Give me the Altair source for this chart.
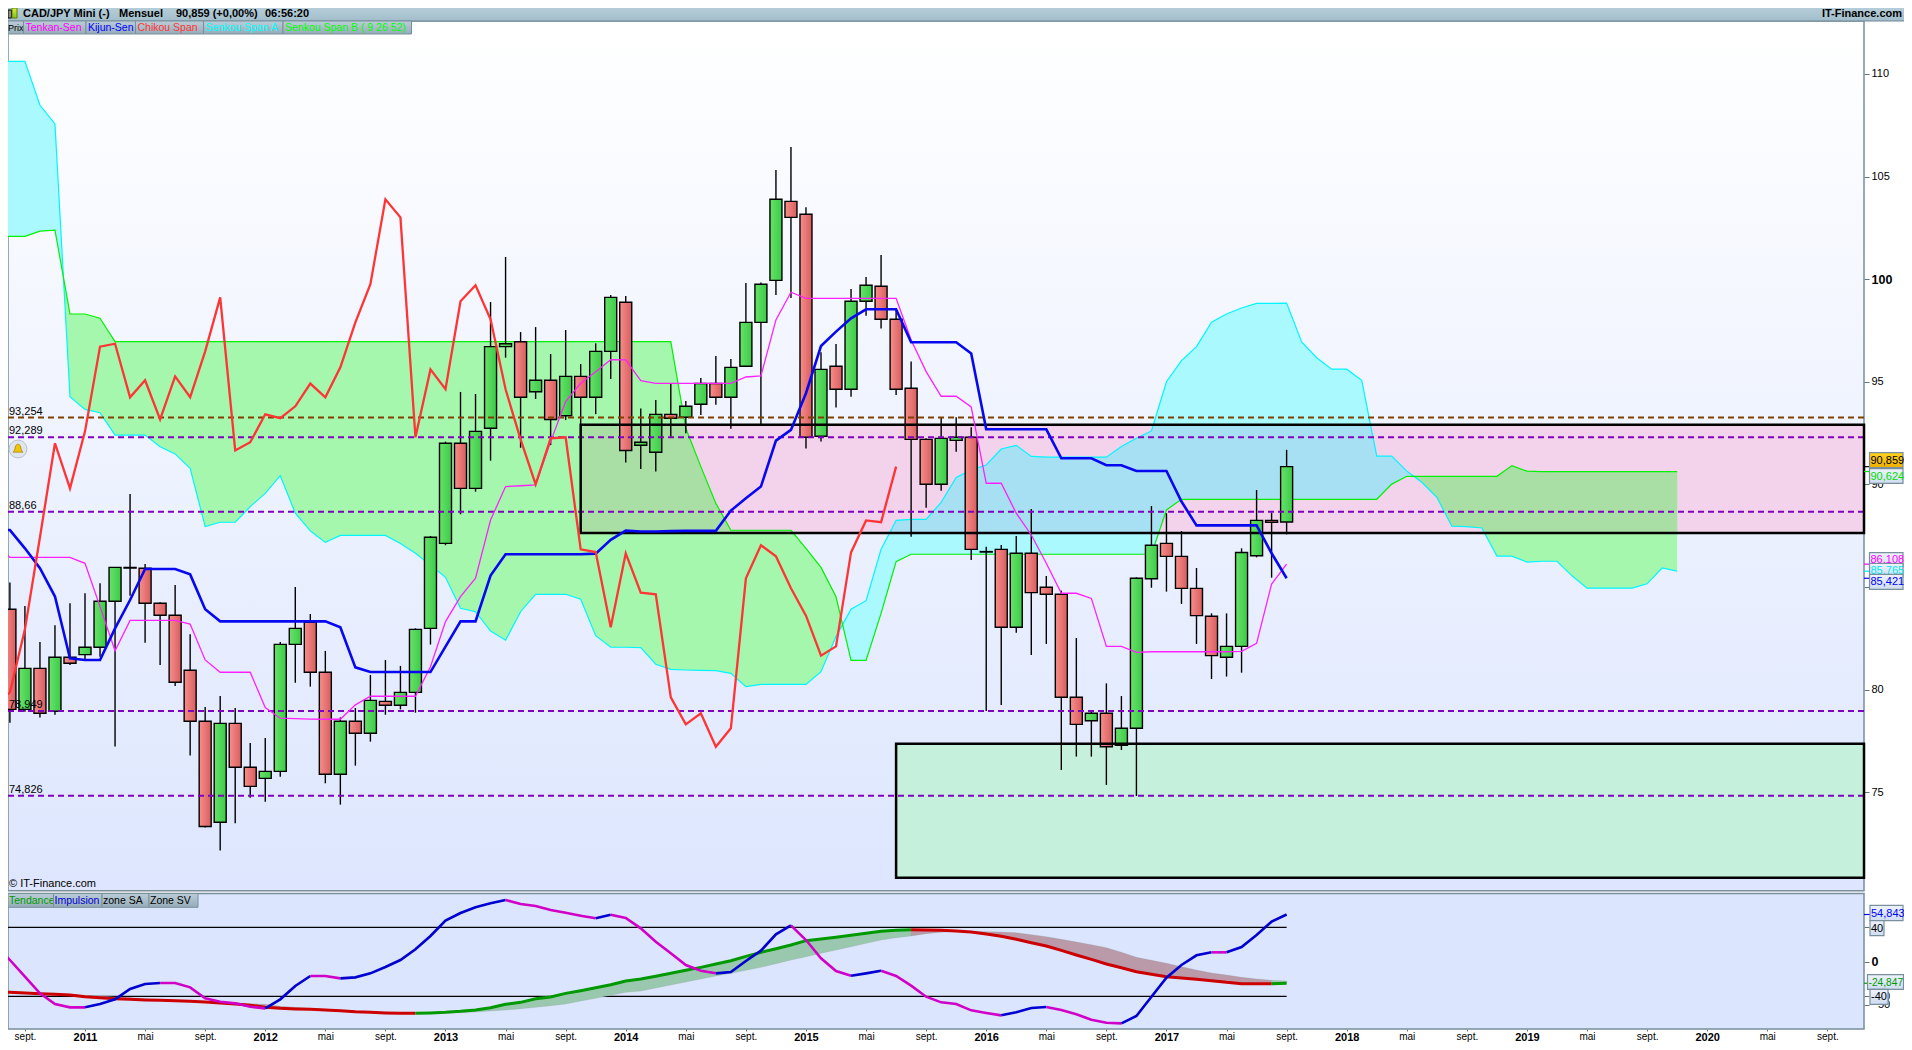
import altair as alt
import pandas as pd

FONT = "Liberation Sans"
# ---- candles, one per month, August 2010 to September 2017
open_ = [83.91,79.03,81.03,78.94,81.57,81.70,82.06,84.30,85.95,85.91,84.20,83.62,80.94,78.45,73.53,78.35,76.21,75.67,76.01,82.20,83.27,80.84,75.87,78.45,77.87,79.42,79.23,79.86,82.98,87.12,92.00,89.80,92.73,96.71,96.95,94.51,95.07,93.34,95.26,94.24,96.48,98.87,91.90,91.56,93.41,93.27,93.90,94.91,94.24,95.75,97.89,99.94,103.79,103.16,92.34,95.75,94.63,98.92,99.65,98.04,94.68,92.19,90.00,92.14,92.29,86.72,86.83,83.03,86.64,84.98,84.64,79.62,78.48,78.84,77.28,78.11,85.40,87.12,86.49,84.93,83.57,81.57,82.10,86.52,88.24,88.16]
high = [85.22,84.07,82.32,83.13,84.20,84.69,85.18,85.95,89.53,86.12,84.25,85.09,82.69,79.15,79.68,79.10,77.39,77.64,82.32,85.00,83.68,81.88,78.64,79.10,80.71,81.44,81.15,82.98,87.48,92.08,94.50,94.40,98.88,101.08,97.42,97.66,96.35,97.52,95.86,96.87,99.22,99.18,93.70,94.11,94.89,94.06,95.18,96.25,96.11,99.81,99.84,105.32,106.44,103.50,96.43,96.84,99.52,100.10,101.18,98.50,95.99,92.24,93.27,93.27,92.78,86.96,87.04,87.48,88.80,85.53,84.82,82.51,79.00,80.30,79.68,85.47,88.94,88.59,87.72,85.92,83.71,83.71,86.88,89.72,88.62,91.68]
low = [78.38,78.92,78.63,78.77,81.20,81.44,81.60,77.22,84.57,82.28,81.20,80.17,76.78,73.27,72.15,73.48,74.73,74.53,75.75,80.33,80.14,75.43,74.39,76.29,77.46,78.77,79.03,78.87,82.19,87.03,88.54,89.64,91.15,96.17,91.78,94.16,91.91,93.13,92.89,93.42,95.13,91.06,90.75,90.62,92.32,92.49,93.38,93.88,92.71,95.75,92.89,99.23,99.08,91.74,92.08,93.74,94.27,98.22,97.59,94.35,87.45,88.86,89.69,91.59,86.31,78.95,79.25,82.77,81.68,82.22,76.08,76.73,76.73,75.35,77.05,74.81,84.96,84.77,84.17,82.22,80.51,80.63,80.82,86.44,85.45,87.56]
close = [79.03,81.03,78.84,81.57,81.28,82.06,84.30,85.95,85.92,84.20,83.62,80.35,78.45,73.32,78.35,76.21,75.28,76.01,82.20,82.98,80.84,75.87,78.45,77.87,79.47,79.23,79.86,82.93,87.42,92.00,89.80,92.58,96.71,96.85,94.24,95.07,93.16,95.26,94.24,96.48,99.11,91.65,92.05,93.41,93.22,93.80,94.91,94.24,95.70,97.89,99.75,103.89,103.01,92.29,95.60,94.63,98.92,99.70,98.04,94.63,92.19,90.00,92.24,92.29,86.83,86.70,83.03,86.64,84.72,84.64,79.62,78.30,78.84,77.21,78.11,85.42,87.03,86.49,84.93,83.60,81.65,82.10,86.68,88.24,88.15,90.86]
# ---- Ichimoku lines, first value is the month before the first candle
tenkan = [87.14,86.44,86.44,86.44,86.44,86.44,86.15,84.04,81.89,83.37,83.37,83.37,83.37,83.19,81.44,80.84,80.84,80.84,79.12,78.60,78.58,78.56,78.55,78.55,79.25,79.67,79.67,79.67,79.67,81.11,83.31,84.53,85.42,88.26,89.89,89.93,89.97,92.08,94.03,94.92,95.49,96.07,96.06,95.05,94.92,94.92,94.92,94.92,94.92,94.92,95.23,95.28,98.01,99.36,99.06,99.06,99.06,99.06,99.06,99.06,99.06,97.03,95.49,94.29,94.29,93.77,90.05,90.05,88.59,87.53,86.15,84.69,84.69,84.44,82.10,82.10,81.81,81.84,81.84,81.84,81.84,81.84,81.84,81.86,82.25,85.14,86.108]
kijun = [87.77,87.77,86.88,85.91,84.53,81.52,81.44,81.44,82.98,84.36,85.87,85.87,85.87,85.61,83.91,83.32,83.32,83.32,83.32,83.32,83.32,83.32,83.32,83.03,81.08,80.85,80.85,80.85,80.85,80.85,82.09,83.32,83.32,85.55,86.59,86.59,86.59,86.59,86.59,86.59,86.62,87.29,87.74,87.70,87.70,87.72,87.73,87.73,87.73,88.72,89.32,89.89,92.13,92.65,94.44,96.74,97.44,98.09,98.53,98.53,98.53,96.92,96.92,96.92,96.92,96.38,92.68,92.68,92.68,92.68,92.68,91.27,91.27,91.27,90.93,90.93,90.65,90.65,90.65,89.16,88.00,88.00,88.00,88.00,88.00,86.64,85.421]
chikou = [79.23,79.86,82.93,87.42,92.00,89.80,92.58,96.71,96.85,94.24,95.07,93.16,95.26,94.24,96.48,99.11,91.65,92.05,93.41,93.22,93.80,94.91,94.24,95.70,97.89,99.75,103.89,103.01,92.29,95.60,94.63,98.92,99.70,98.04,94.63,92.19,90.00,92.24,92.29,86.83,86.70,83.03,86.64,84.72,84.64,79.62,78.30,78.84,77.21,78.11,85.42,87.03,86.49,84.93,83.60,81.65,82.10,86.68,88.24,88.15,90.86]
senkou_a = [110.61,110.61,110.61,108.47,107.56,94.27,93.65,93.49,92.40,92.40,92.40,91.83,91.48,90.78,87.94,88.15,88.15,88.91,89.56,90.42,88.59,87.73,87.17,87.51,87.51,87.51,87.51,87.12,86.64,86.07,85.47,83.96,83.79,82.85,82.40,83.79,84.64,84.64,84.64,84.40,82.62,82.06,82.06,82.04,81.23,80.98,80.95,80.93,80.92,80.79,80.14,80.25,80.25,80.25,80.25,80.87,82.58,83.91,84.33,86.83,88.24,88.29,88.29,89.12,90.33,90.70,90.94,91.72,91.90,91.36,91.32,91.32,91.32,91.32,91.32,91.84,92.24,92.60,95.00,96.03,96.71,97.90,98.30,98.59,98.82,98.82,98.83,96.94,96.17,95.61,95.61,95.07,91.37,91.37,90.64,90.10,89.37,87.96,87.94,87.87,86.50,86.50,86.21,86.25,86.25,85.54,84.94,84.94,84.94,84.94,85.15,85.92,85.77]
senkou_b = [102.08,102.08,102.08,102.34,102.39,98.30,98.30,98.09,96.95,96.95,96.95,96.95,96.95,96.95,96.95,96.95,96.95,96.95,96.95,96.95,96.95,96.95,96.95,96.95,96.95,96.95,96.95,96.95,96.95,96.95,96.95,96.95,96.95,96.95,96.95,96.95,96.95,96.95,96.95,96.95,96.95,96.95,96.95,96.95,96.95,96.95,92.73,90.86,89.07,87.76,87.76,87.76,87.76,87.76,86.88,85.95,84.52,81.42,81.42,83.71,86.23,86.59,86.59,86.59,86.59,86.59,86.59,86.59,86.59,86.59,86.59,86.59,86.59,86.59,86.59,86.59,86.59,86.59,88.75,89.27,89.27,89.27,89.27,89.27,89.27,89.27,89.27,89.27,89.27,89.27,89.27,89.27,89.27,90.01,90.39,90.39,90.39,90.39,90.39,90.39,90.39,90.91,90.64,90.62,90.62,90.62,90.62,90.62,90.62,90.62,90.62,90.62,90.62]
# ---- lower indicator
impulsion = [21.80,2.09,-17.24,-36.56,-48.93,-52.79,-52.79,-48.93,-43.52,-31.54,-25.74,-24.58,-24.58,-29.60,-42.36,-46.22,-48.16,-52.02,-53.95,-43.52,-28.06,-16.46,-16.46,-19.17,-18.01,-13.37,-6.03,2.09,14.45,29.91,47.69,56.58,63.15,67.79,71.65,67.01,64.70,60.06,56.97,53.49,50.40,54.65,50.78,38.80,23.34,9.82,-3.71,-10.28,-13.37,-11.83,0.93,12.91,31.84,42.28,25.27,4.02,-10.67,-16.08,-13.37,-10.28,-16.46,-27.67,-40.43,-47.00,-48.93,-56.27,-59.36,-62.07,-58.59,-53.57,-52.41,-55.88,-60.91,-67.09,-70.57,-71.34,-62.84,-40.43,-18.40,-3.71,7.50,10.98,10.98,17.16,31.07,46.53,54.843]
tendance = [-35.02,-35.40,-36.17,-36.95,-37.72,-38.49,-40.43,-41.58,-42.74,-43.52,-44.29,-44.68,-45.06,-45.84,-46.61,-47.77,-48.93,-50.47,-52.79,-53.95,-54.72,-55.11,-55.88,-56.66,-57.82,-58.59,-59.36,-59.75,-59.75,-59.36,-58.59,-57.43,-55.88,-53.18,-49.31,-47.00,-42.74,-40.81,-36.56,-33.47,-29.99,-26.51,-22.26,-19.94,-16.85,-13.37,-9.89,-6.42,-2.55,1.31,6.34,10.98,15.23,19.48,24.50,26.43,28.37,30.69,33.00,35.32,36.48,37.26,36.87,36.48,35.71,34.55,32.23,29.53,26.05,22.18,18.32,13.29,7.88,2.86,-2.55,-6.80,-11.44,-14.53,-17.24,-18.78,-20.33,-21.87,-23.81,-25.35,-25.35,-25.35,-24.847]
zone = [-34.63,-35.02,-35.40,-36.17,-36.95,-37.72,-38.88,-39.65,-40.81,-41.58,-42.74,-43.90,-44.68,-45.45,-46.22,-47.00,-47.77,-48.54,-49.31,-51.63,-52.79,-53.95,-55.11,-56.27,-57.04,-57.82,-58.59,-59.36,-59.75,-59.75,-59.36,-58.98,-58.20,-57.04,-55.88,-54.34,-52.79,-50.86,-48.93,-45.45,-42.36,-38.88,-35.40,-33.85,-30.38,-26.90,-23.42,-19.94,-16.46,-13.37,-9.89,-6.42,-2.16,2.09,5.95,9.82,13.68,17.55,21.41,25.27,27.98,29.91,32.62,34.16,35.71,35.32,34.94,34.55,33.78,31.46,29.14,26.05,22.96,19.86,16.39,10.98,5.18,1.70,-1.78,-5.64,-9.51,-12.99,-15.30,-18.01,-19.94,-21.49,-22.26]
# phases: (colour name, last month position of the run)
impulsion_runs = [("down",6),("up",11),("down",18),("up",21),("down",23),("up",34),("down",40),("up",41),("down",48),("up",53),("down",57),("up",59),("down",67),("up",70),("down",75),("up",81),("down",82),("up",86)]
tendance_runs = [("down",28),("up",61),("down",85),("up",86)]
# ---- levels and labels
level_values = [93.254, 92.289, 88.66, 78.949, 74.826]
level_labels = ["93,254", "92,289", "88,66", "78,949", "74,826"]
level_colors = ["#804000", "#8000c0", "#8000c0", "#8000c0", "#8000c0"]
price_ticks = [110, 105, 100, 95, 90, 85, 80, 75]
osc_ticks = [40, 0, -40, -50]
month_ticks = [-4 + 4 * i for i in range(31)]
pink_zone = {"m0": 33, "m1": 118.44, "top": 92.90, "bot": 87.63}
green_zone = {"m0": 54, "m1": 118.44, "top": 77.36, "bot": 70.83}

M0 = -5.127
M1 = 118.44
PW = 1856  # plot width
W = 1896
H = 1034
xs = alt.Scale(domain=[M0, M1], range=[0, PW], nice=False, zero=False, padding=0)
ys = alt.Scale(domain=[110, 70], range=[65.9, 886.7], nice=False, zero=False, padding=0)
ls = alt.Scale(domain=[79.2, -77.9], range=[885.5, 1021], nice=False, zero=False, padding=0)


def X(f="m"):
    return alt.X(f"{f}:Q", scale=xs, axis=None)


def Y(f="y"):
    return alt.Y(f"{f}:Q", scale=ys, axis=None)


def L(f="y"):
    return alt.Y(f"{f}:Q", scale=ls, axis=None)


one = pd.DataFrame({"a": [0]})


def grad(c0, c1, horizontal=False):
    return alt.Gradient(gradient="linear", stops=[alt.GradientStop(color=c0, offset=0), alt.GradientStop(color=c1, offset=1)],
                        x1=0, y1=0, x2=1 if horizontal else 0, y2=0 if horizontal else 1)


def box(x0, y0, x1, y1, fill, stroke=None, sw=1.0):
    kw = {"fill": fill}
    if stroke:
        kw.update(stroke=stroke, strokeWidth=sw)
    return alt.Chart(one).mark_rect(**kw).encode(x=alt.value(x0), x2=alt.value(x1), y=alt.value(y0), y2=alt.value(y1))


def label(x, y, s, color="black", size=11, weight="normal", align="left"):
    return alt.Chart(one).mark_text(text=s, font=FONT, fontSize=size, fontWeight=weight, color=color, align=align, baseline="middle").encode(x=alt.value(x), y=alt.value(y))


layers = []
FRAME = "#7a8f9c"
# backgrounds
layers.append(box(0, 13, PW, 882.7, grad("#ffffff", "#dde6fe"), FRAME, 1.5))
layers.append(box(0, 885.5, PW, 1021, "#dbe6fe", FRAME, 1.5))

# zones under the cloud
zp = pd.DataFrame([pink_zone])
zg = pd.DataFrame([green_zone])
layers.append(alt.Chart(zp).mark_rect(fill="#f3d2ec").encode(x=X("m0"), x2="m1:Q", y=Y("top"), y2="bot:Q"))
layers.append(alt.Chart(zg).mark_rect(fill="#c5f0dc").encode(x=X("m0"), x2="m1:Q", y=Y("top"), y2="bot:Q"))

# cloud, split wherever the spans cross each other or the edges of the pink zone
ZT, ZB = pink_zone["top"], pink_zone["bot"]


def clampz(v):
    return min(max(v, ZB), ZT)


rows = []
for i in range(len(senkou_a)):
    m = i - 6
    a, b = senkou_a[i], senkou_b[i]
    if i + 1 == len(senkou_a):
        ts = [0.0]
    else:
        a2, b2 = senkou_a[i + 1], senkou_b[i + 1]
        ts = {0.0}
        for d0, d1 in ((a - b, a2 - b2), (a - ZT, a2 - ZT), (a - ZB, a2 - ZB), (b - ZT, b2 - ZT), (b - ZB, b2 - ZB)):
            if d0 * d1 < 0:
                ts.add(d0 / (d0 - d1))
        ts = sorted(ts)
    for t in ts:
        if i + 1 == len(senkou_a):
            va, vb = a, b
        else:
            va, vb = a + t * (a2 - a), b + t * (b2 - b)
        rows.append({"m": m + t, "a": va, "b": vb, "top": max(va, vb),
                     "ca": clampz(va), "cb": clampz(vb), "ctop": max(clampz(va), clampz(vb))})
cloud = pd.DataFrame(rows)
layers.append(alt.Chart(cloud).mark_area(color="#a9f9ff", orient="vertical").encode(
    x=alt.X("m:Q", scale=xs, axis=alt.Axis(
        orient="bottom", offset=-13, values=month_ticks, grid=False, domain=False, tickSize=2, tickColor="#5f7480",
        labelPadding=0, title=None, labelFont=FONT, labelColor="black", labelOverlap=False, labelFlush=False, labelBound=False,
        labelExpr="datum.value % 12 == 0 ? '' + (2011 + datum.value / 12) : ((datum.value % 12 + 12) % 12 == 4 ? 'mai' : 'sept.')",
        labelFontSize=alt.condition("datum.value % 12 == 0", alt.value(11), alt.value(10)),
        labelFontWeight=alt.condition("datum.value % 12 == 0", alt.value("bold"), alt.value("normal")))),
    y=alt.Y("top:Q", scale=ys, axis=alt.Axis(
        orient="right", offset=PW - W, values=price_ticks, grid=False, domain=False, tickSize=5, tickColor="#5f7480",
        labelPadding=2, title=None, labelFont=FONT, labelColor="black", labelOverlap=False, labelFlush=False, labelBound=False,
        labelFontSize=alt.condition("datum.value == 100", alt.value(12.5), alt.value(11)),
        labelFontWeight=alt.condition("datum.value == 100", alt.value("bold"), alt.value("normal")))),
    y2="b:Q"))
layers.append(alt.Chart(cloud).mark_area(color="#a5f7ad", orient="vertical").encode(x=X(), y=Y("top"), y2="a:Q"))
# the cloud seen through the pink zone
over = cloud[cloud["m"] >= pink_zone["m0"]]
layers.append(alt.Chart(over).mark_area(color="#a8e0f3", orient="vertical").encode(x=X(), y=Y("ctop"), y2="cb:Q"))
layers.append(alt.Chart(over).mark_area(color="#a9dfa4", orient="vertical").encode(x=X(), y=Y("ctop"), y2="ca:Q"))
layers.append(alt.Chart(cloud).mark_line(color="#00f5ff", strokeWidth=1.2).encode(x=X(), y=Y("a")))
layers.append(alt.Chart(cloud).mark_line(color="#00f000", strokeWidth=1.2).encode(x=X(), y=Y("b")))

# candles
cdf = pd.DataFrame({"m": [i - 5 for i in range(len(open_))], "o": open_, "h": high, "l": low, "c": close})
cdf["top"] = cdf[["o", "c"]].max(axis=1)
cdf["bot"] = cdf[["o", "c"]].min(axis=1)
layers.append(alt.Chart(cdf).mark_rule(color="black", strokeWidth=1.4).encode(x=X(), y=Y("h"), y2="l:Q"))
for cond, g in (("datum.c >= datum.o", grad("#68e26a", "#3ccb48", True)), ("datum.c < datum.o", grad("#f78e8a", "#d85e60", True))):
    layers.append(alt.Chart(cdf).transform_filter(cond).mark_bar(fill=g, stroke="black", strokeWidth=1.4, size=12, orient="vertical").encode(
        x=X(), y=Y("top"), y2="bot:Q"))

# levels
lv = pd.DataFrame({"y": level_values, "t": level_labels, "col": level_colors})
layers.append(alt.Chart(lv).mark_rule(strokeWidth=2, strokeDash=[6, 4]).encode(
    x=alt.value(0), x2=alt.value(PW), y=Y(), color=alt.Color("col:N", scale=None)))
layers.append(alt.Chart(lv).mark_text(font=FONT, fontSize=11, align="left", baseline="bottom", dy=-1, color="black").encode(
    x=alt.value(1), y=Y(), text="t:N"))

# zone borders
for z in (zp, zg):
    layers.append(alt.Chart(z).mark_rect(fill="transparent", stroke="black", strokeWidth=2.5).encode(x=X("m0"), x2="m1:Q", y=Y("top"), y2="bot:Q"))

# lines
ten = pd.DataFrame({"m": [i - 6 for i in range(len(tenkan))], "y": tenkan})
kij = pd.DataFrame({"m": [i - 6 for i in range(len(kijun))], "y": kijun})
chi = pd.DataFrame({"m": [i - 6 for i in range(len(chikou))], "y": chikou})
layers.append(alt.Chart(ten).mark_line(color="#ff20ff", strokeWidth=1.3).encode(x=X(), y=Y()))
layers.append(alt.Chart(kij).mark_line(color="#0808f0", strokeWidth=2.6).encode(x=X(), y=Y()))
layers.append(alt.Chart(chi).mark_line(color="#ff3434", strokeWidth=2.3).encode(x=X(), y=Y()))

# lower panel
levels_low = pd.DataFrame({"y": [40, -40], "m0": [M0, M0], "m1": [80, 80]})
layers.append(alt.Chart(levels_low).mark_rule(color="black", strokeWidth=1.2).encode(
    x=X("m0"), x2="m1:Q",
    y=alt.Y("y:Q", scale=ls, axis=alt.Axis(
        orient="right", offset=PW - W, values=osc_ticks, grid=False, domain=False, tickSize=5, tickColor="#5f7480",
        labelPadding=2, title=None, labelFont=FONT, labelColor="black", labelOverlap=False, labelFlush=False, labelBound=False,
        labelFontSize=alt.condition("datum.value == 0", alt.value(12.5), alt.value(11)),
        labelFontWeight=alt.condition("datum.value == 0", alt.value("bold"), alt.value("normal"))))))


def segments(values, runs, up, down, other=None):
    out = []
    start = 0
    for seg, (kind, end) in enumerate(runs):
        for i in range(start, end + 1):
            r = {"m": i - 6, "y": values[i], "seg": seg, "col": up if kind == "up" else down}
            if other is not None:
                r["z"] = other[i]
            out.append(r)
        start = end
    return pd.DataFrame(out)


tz = segments(tendance, tendance_runs, "#9ac8ae", "#ba99a9", zone)
layers.append(alt.Chart(tz).mark_area(orient="vertical", stroke="#8a9a92", strokeWidth=0.5, strokeOpacity=0.5).encode(
    x=X(), y=L("z"), y2="y:Q", detail="seg:N", color=alt.Color("col:N", scale=None)))
tl = segments(tendance, tendance_runs, "#009a00", "#cc0000")
layers.append(alt.Chart(tl).mark_line(strokeWidth=3).encode(x=X(), y=L(), detail="seg:N", color=alt.Color("col:N", scale=None)))
il = segments(impulsion, impulsion_runs, "#0000d0", "#d000c8")
layers.append(alt.Chart(il).mark_line(strokeWidth=2.6).encode(x=X(), y=L(), detail="seg:N", color=alt.Color("col:N", scale=None)))

# right-hand markers
ticks_main = pd.DataFrame({"y": [90.859, 90.624, 86.108, 85.765, 85.421], "col": ["black", "#00e000", "#ff00ff", "#00e8f0", "#0000ff"]})
layers.append(alt.Chart(ticks_main).mark_rule(strokeWidth=1.2).encode(x=alt.value(PW), x2=alt.value(PW + 6), y=Y(), color=alt.Color("col:N", scale=None)))
ticks_low = pd.DataFrame({"y": [54.843, -24.847], "col": ["#0000ff", "#009a00"]})
layers.append(alt.Chart(ticks_low).mark_rule(strokeWidth=1.2).encode(x=alt.value(PW), x2=alt.value(PW + 6), y=L(), color=alt.Color("col:N", scale=None)))

BOXF = grad("#eef3fd", "#cfdcf2")
# value boxes: page coordinates minus the 8px margin
for (x0, y0, x1, y1, s, col, fill, fs) in [
    (1861.5, 444.7, 1895, 459.7, "90,859", "black", grad("#ffd21e", "#eeb000"), 11),
    (1861.5, 460.7, 1895, 475.3, "90,624", "#00e000", BOXF, 11),
    (1861.5, 544.7, 1895, 559, "86,108", "#ff00ff", BOXF, 11),
    (1861.5, 555.5, 1895, 569, "85,765", "#00e8f0", BOXF, 11),
    (1861.5, 566.3, 1895, 581.3, "85,421", "#0000ff", BOXF, 11),
    (1862, 897.3, 1895, 912.7, "54,843", "#0000ff", BOXF, 11),
    (1862, 912.7, 1876, 927.7, "40", "black", BOXF, 11),
    (1859.5, 966.7, 1895.5, 981.3, "-24,847", "#009a00", BOXF, 10.2),
    (1862, 981.3, 1880, 996.3, "-40", "black", BOXF, 11),
]:
    layers.append(box(x0, y0, x1, y1, fill, FRAME, 1.2))
    layers.append(label(x0 + 1, (y0 + y1) / 2 + 0.5, s, col, fs))

# header band
layers.append(box(-2, -10, W + 2, 13, grad("#c3d9e4", "#a2bdca"), "#6f8793", 1.2))
layers.append(box(0, 2, 3.5, 10, "#8c8c8c", "black", 1))
layers.append(box(4, 0, 9, 10, grad("#d8f040", "#80c020"), "#608000", 1))
for s, x in (("CAD/JPY Mini (-)", 15), ("Mensuel", 111), ("90,859 (+0,00%)", 168), ("06:56:20", 257)):
    layers.append(label(x, 6, s, "black", 11, "bold"))
layers.append(label(W - 2, 6, "IT-Finance.com", "black", 11, "bold", "right"))

# indicator tabs
TAB = grad("#bccdd8", "#96acb9")
tabs = [("Prix", 0, 15.5, "black"), ("Tenkan-Sen", 15.5, 78, "#ff00ff"), ("Kijun-Sen", 78, 127.5, "#0000ff"),
        ("Chikou Span", 127.5, 195.5, "#ff3434"), ("Senkou Span A", 195.5, 275, "#00ffff"), ("Senkou Span B ( 9 26 52)", 275, 403.5, "#00ff00")]
for s, a, b, col in tabs:
    layers.append(box(a, 13, b, 26, TAB, FRAME, 1))
    layers.append(label(a + (0 if s == "Prix" else 2), 20, s, col, 9 if s == "Prix" else 10.5))
tabs2 = [("Tendance", 0, 45.5, "#009a00"), ("Impulsion", 45.5, 94, "#0000d0"), ("zone SA", 94, 141, "black"), ("Zone SV", 141, 190, "black")]
for s, a, b, col in tabs2:
    layers.append(box(a, 885.5, b, 899.3, TAB, FRAME, 1))
    layers.append(label(a + 1, 892.8, s, col, 10.5))

# copyright, bell
layers.append(label(1, 876, "© IT-Finance.com", "black", 11))
layers.append(alt.Chart(one).mark_point(filled=True, size=320, fill="#dfe5ee", stroke="#b8c2cc", strokeWidth=1, shape="circle", opacity=1).encode(x=alt.value(10), y=alt.value(441)))
layers.append(alt.Chart(one).mark_point(filled=True, size=110, fill="#f2c400", stroke="#907000", strokeWidth=0.6, opacity=1,
                                        shape="M-0.15,-0.9 L0.15,-0.9 Q0.55,-0.75 0.6,0 Q0.65,0.4 0.95,0.6 L-0.95,0.6 Q-0.65,0.4 -0.6,0 Q-0.55,-0.75 -0.15,-0.9 Z").encode(x=alt.value(10), y=alt.value(441)))

chart = alt.layer(*layers).resolve_scale(y="independent").resolve_axis(x="independent").properties(
    width=W, height=H, padding=0, background="white",
    autosize=alt.AutoSizeParams(type="none"),
).configure_view(stroke=None)
chart.save("out.html", embed_options={"renderer": "svg", "actions": False})
